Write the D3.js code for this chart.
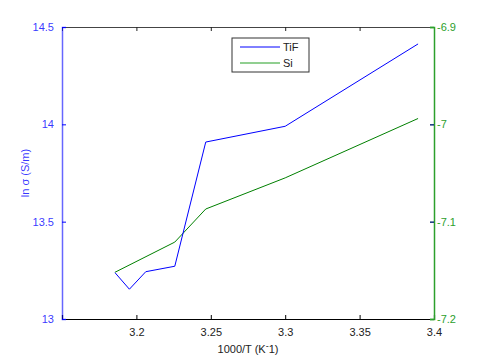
<!DOCTYPE html>
<html>
<head>
<meta charset="utf-8">
<script src="https://cdn.jsdelivr.net/npm/d3@7"></script>
<style>
body { margin: 0; background: #fff; }
text { font-family: "Liberation Sans", Arial, sans-serif; }
</style>
</head>
<body>
<script>
// data
var tifX = [3.1856, 3.1953, 3.2063, 3.2258, 3.2466, 3.3, 3.3893];
var tifY = [13.238, 13.153, 13.243, 13.271, 13.909, 13.99, 14.413];
var siX = [3.1856, 3.2258, 3.2466, 3.3, 3.3893];
var siY = [-7.152, -7.121, -7.087, -7.055, -6.994];
var xTicks = [3.2, 3.25, 3.3, 3.35, 3.4];
var leftTicks = [13, 13.5, 14, 14.5];
var rightTicks = [-7.2, -7.1, -7, -6.9];

var margin = {top: 27, right: 46, bottom: 41, left: 62};
var width = 480 - margin.left - margin.right;
var height = 360 - margin.top - margin.bottom;

var blue = "#0000ff", green = "#008000", axisGreen = "#2ca02c";

var svg = d3.select("body").append("svg")
    .attr("width", 480)
    .attr("height", 360)
  .append("g")
    .attr("transform", "translate(" + margin.left + "," + margin.top + ")");

var xScale = d3.scaleLinear().domain([3.15, 3.4]).range([0, width]);
var yLeft = d3.scaleLinear().domain([13, 14.5]).range([height, 0]);
var yRight = d3.scaleLinear().domain([-7.2, -6.9]).range([height, 0]);

// top border with ticks
svg.append("g")
    .attr("class", "axis top")
    .call(d3.axisTop(xScale).tickValues(xTicks).tickSize(-4).tickFormat(""))
    .call(function(g) { g.select(".domain").attr("stroke", "#444"); g.selectAll("line").attr("stroke", "#222"); });

// bottom axis
var gx = svg.append("g")
    .attr("class", "x axis")
    .attr("transform", "translate(0," + height + ")")
    .call(d3.axisBottom(xScale).tickValues(xTicks).tickSize(-4).tickPadding(9)
        .tickFormat(function(d) { return String(+d.toFixed(2)); }));
gx.select(".domain").attr("stroke", "#000").attr("stroke-width", 1.2);
gx.selectAll("line").attr("stroke", "#000");
gx.selectAll("text").attr("font-size", "11px").attr("fill", "#222");

// left axis
var gl = svg.append("g")
    .attr("class", "y axis")
    .call(d3.axisLeft(yLeft).tickValues(leftTicks).tickSize(-4).tickPadding(8)
        .tickFormat(function(d) { return String(d); }));
gl.select(".domain").attr("stroke", blue).attr("stroke-opacity", 0.6).attr("stroke-width", 1.5);
gl.selectAll("line").attr("stroke", blue);
gl.selectAll("text").attr("font-size", "11px").attr("fill", blue).attr("fill-opacity", 0.8);

// right axis
var gr = svg.append("g")
    .attr("class", "y axis right")
    .attr("transform", "translate(" + width + ",0)")
    .call(d3.axisRight(yRight).tickValues(rightTicks).tickSize(-4).tickPadding(3)
        .tickFormat(function(d) { return "-" + String(Math.abs(d)); }));
gr.select(".domain").attr("stroke", axisGreen).attr("stroke-width", 1.5);
gr.selectAll("line").attr("stroke", function(d, i) { return (i === 1 || i === 2) ? "#10307a" : axisGreen; }).attr("stroke-width", 1.5);
gr.selectAll("text").attr("font-size", "11px").attr("fill", axisGreen);

// lines
var tifLine = d3.line()
    .x(function(d, i) { return xScale(tifX[i]); })
    .y(function(d) { return yLeft(d); });
var siLine = d3.line()
    .x(function(d, i) { return xScale(siX[i]); })
    .y(function(d) { return yRight(d); });

svg.append("path").datum(siY)
    .attr("d", siLine).attr("fill", "none").attr("stroke", green).attr("stroke-width", 1);
svg.append("path").datum(tifY)
    .attr("d", tifLine).attr("fill", "none").attr("stroke", blue).attr("stroke-width", 1);

// axis labels
var xl = svg.append("text")
    .attr("x", width / 2)
    .attr("y", height + 34)
    .attr("text-anchor", "middle")
    .attr("font-size", "11px")
    .attr("fill", "#222");
xl.append("tspan").text("1000/T (K");
xl.append("tspan").attr("dy", -4).attr("font-size", "9px").text("-");
xl.append("tspan").attr("dy", 4).text("1)");

svg.append("text")
    .attr("transform", "rotate(-90)")
    .attr("x", -height / 2)
    .attr("y", -33)
    .attr("text-anchor", "middle")
    .attr("font-size", "11px")
    .attr("fill", blue)
    .attr("fill-opacity", 0.8)
    .text("ln \u03c3 (S/m)");

// legend
var legend = svg.append("g").attr("transform", "translate(170,11)");
legend.append("rect")
    .attr("width", 77).attr("height", 34)
    .attr("fill", "#fff").attr("stroke", "#333");
var items = [{name: "TiF", color: blue}, {name: "Si", color: "#6dbf6d"}];
items.forEach(function(it, i) {
  legend.append("line")
      .attr("x1", 8).attr("x2", 48)
      .attr("y1", 9 + i * 16).attr("y2", 9 + i * 16)
      .attr("stroke", it.color).attr("stroke-width", i ? 1.5 : 1);
  legend.append("text")
      .attr("x", 51).attr("y", 13 + i * 16)
      .attr("font-size", "11px").attr("fill", "#222")
      .text(it.name);
});
</script>
</body>
</html>
